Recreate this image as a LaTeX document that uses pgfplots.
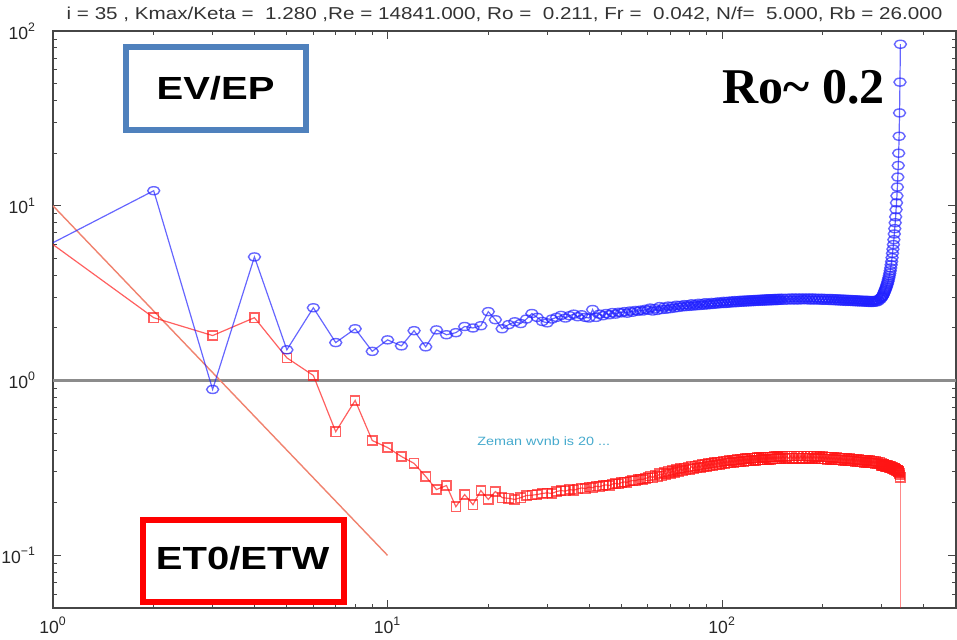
\documentclass[border=0pt]{standalone}
\usepackage{pgfplots}
\pgfplotsset{compat=1.18}
\usepackage{pgfplotstable}
\usepackage{graphicx}
\usepackage{fontspec}
\setmainfont{Liberation Sans}
\newfontfamily\timesfont{Liberation Serif}
\definecolor{evblue}{RGB}{30,30,255}
\definecolor{etred}{RGB}{255,20,20}
\definecolor{boxblue}{RGB}{79,129,189}
\definecolor{slopec}{RGB}{240,130,110}
\definecolor{zeman}{RGB}{70,170,205}
\definecolor{frame}{RGB}{70,70,70}

\pgfplotstableread{
k ev et
1 6.15 6.0
2 12.2 2.29
3 0.89 1.81
4 5.1 2.29
5 1.50 1.35
6 2.61 1.07
7 1.65 0.51
8 1.98 0.77
9 1.47 0.454
10 1.71 0.414
11 1.58 0.368
12 1.93 0.336
13 1.56 0.283
14 1.95 0.238
15 1.83 0.251
16 1.88 0.190
17 2.04 0.223
18 2.00 0.195
19 2.06 0.235
20 2.48 0.209
21 2.23 0.232
22 1.98 0.214
23 2.09 0.212
24 2.17 0.209
25 2.12 0.214
26 2.25 0.220
27 2.42 0.221
28 2.30 0.223
29 2.18 0.226
30 2.14 0.228
31 2.25 0.226
32 2.30 0.232
33 2.36 0.235
34 2.28 0.233
35 2.35 0.238
36 2.40 0.236
37 2.32 0.240
38 2.38 0.243
39 2.30 0.241
40 2.28 0.246
41 2.55 0.244
42 2.30 0.249
43 2.40 0.247
44 2.35 0.251
45 2.42 0.253
46 2.38 0.251
47 2.45 0.256
48 2.40 0.258
49 2.46 0.256
50 2.44 0.261
51 2.48 0.263
52 2.43 0.262
53 2.50 0.266
54 2.46 0.268
55 2.52 0.267
56 2.49 0.271
57 2.53 0.273
58 2.50 0.272
59 2.56 0.276
60 2.53 0.278
61 2.60 0.285
62 2.50 0.277
63 2.58 0.288
64 2.52 0.282
65 2.65 0.294
66 2.55 0.285
67 2.63 0.298
68 2.56 0.290
69 2.67 0.303
70 2.58 0.294
71 2.66 0.306
72 2.60 0.298
73 2.70 0.310
74 2.62 0.302
75 2.69 0.314
76 2.64 0.305
77 2.72 0.317
78 2.65 0.308
79 2.71 0.320
80 2.66 0.311
81 2.75 0.323
82 2.67 0.314
83 2.73 0.325
84 2.68 0.316
85 2.77 0.328
86 2.69 0.318
87 2.75 0.330
88 2.70 0.320
89 2.79 0.333
90 2.71 0.323
91 2.77 0.335
92 2.72 0.325
93 2.80 0.337
94 2.73 0.327
95 2.79 0.339
96 2.74 0.329
97 2.82 0.342
98 2.75 0.331
99 2.81 0.343
100 2.76 0.333
101 2.84 0.346
102 2.76 0.336
103 2.83 0.347
104 2.77 0.337
105 2.85 0.349
106 2.78 0.339
107 2.85 0.350
108 2.79 0.340
109 2.87 0.352
110 2.79 0.342
111 2.86 0.353
112 2.80 0.343
113 2.88 0.355
114 2.81 0.344
115 2.88 0.356
116 2.81 0.345
117 2.89 0.357
118 2.82 0.346
119 2.89 0.358
120 2.82 0.347
121 2.90 0.359
122 2.83 0.348
123 2.90 0.360
124 2.83 0.349
125 2.91 0.361
126 2.84 0.350
127 2.91 0.362
128 2.84 0.351
129 2.92 0.362
130 2.85 0.352
131 2.92 0.363
132 2.85 0.353
133 2.93 0.364
134 2.85 0.353
135 2.93 0.364
136 2.86 0.354
137 2.94 0.365
138 2.86 0.355
139 2.94 0.366
140 2.86 0.355
141 2.94 0.366
142 2.87 0.356
143 2.95 0.367
144 2.87 0.356
145 2.95 0.367
146 2.87 0.357
147 2.95 0.368
148 2.88 0.357
149 2.96 0.368
150 2.88 0.358
152 2.96 0.369
154 2.88 0.358
156 2.96 0.369
158 2.89 0.359
160 2.97 0.370
162 2.89 0.359
164 2.97 0.370
166 2.89 0.359
168 2.97 0.370
170 2.89 0.359
172 2.97 0.370
174 2.90 0.359
176 2.97 0.370
178 2.90 0.359
180 2.97 0.370
182 2.89 0.359
184 2.97 0.369
186 2.89 0.358
188 2.97 0.369
190 2.89 0.358
192 2.96 0.368
194 2.89 0.357
196 2.96 0.368
198 2.88 0.357
200 2.96 0.367
202 2.88 0.356
204 2.95 0.366
206 2.88 0.355
208 2.95 0.365
210 2.87 0.355
212 2.95 0.364
214 2.87 0.354
216 2.94 0.363
218 2.86 0.353
220 2.94 0.362
222 2.86 0.352
224 2.93 0.361
226 2.85 0.351
228 2.93 0.360
230 2.85 0.350
232 2.92 0.359
234 2.84 0.349
236 2.92 0.358
238 2.84 0.348
240 2.91 0.357
242 2.84 0.347
244 2.91 0.356
246 2.83 0.346
248 2.90 0.355
250 2.83 0.345
252 2.90 0.354
254 2.82 0.344
256 2.89 0.353
258 2.82 0.343
260 2.89 0.352
262 2.82 0.342
264 2.88 0.351
266 2.81 0.341
268 2.88 0.350
270 2.81 0.340
272 2.88 0.349
274 2.80 0.339
276 2.87 0.348
278 2.80 0.338
280 2.87 0.347
282 2.80 0.337
284 2.87 0.346
286 2.81 0.336
288 2.88 0.345
290 2.82 0.335
292 2.90 0.343
294 2.86 0.334
296 2.95 0.341
298 2.93 0.332
299 2.99 0.336
300 3.00 0.328
301 3.03 0.333
302 3.06 0.326
303 3.10 0.331
304 3.15 0.325
305 3.20 0.330
306 3.25 0.324
307 3.30 0.329
308 3.35 0.323
309 3.41 0.328
310 3.47 0.322
311 3.54 0.327
312 3.61 0.321
313 3.69 0.326
314 3.78 0.320
315 3.88 0.325
316 3.99 0.319
317 4.11 0.323
318 4.25 0.317
319 4.41 0.322
320 4.60 0.316
321 4.80 0.320
322 5.05 0.315
323 5.35 0.319
324 5.65 0.314
325 6.00 0.317
326 6.40 0.312
327 6.90 0.315
328 7.40 0.311
329 8.00 0.313
330 8.65 0.309
331 9.50 0.311
332 10.4 0.307
333 11.4 0.308
334 12.8 0.305
335 14.6 0.306
336 17.0 0.303
337 20.0 0.302
338 25.0 0.299
339 34.0 0.295
340 51.0 0.289
341 84.0 0.280
}\spectra

\begin{document}
\begin{tikzpicture}
\begin{axis}[
  scale only axis,
  width=451.5pt, height=288.5pt,
  xmode=log, ymode=log,
  xmin=1, xmax=500, ymin=0.05, ymax=100,
  xtick={1,10,100},
  xticklabels={10\textsuperscript{0},10\textsuperscript{1},10\textsuperscript{2}},
  ytick={0.1,1,10,100},
  yticklabels={10\textsuperscript{−1},10\textsuperscript{0},10\textsuperscript{1},10\textsuperscript{2}},
  minor xtick={2,3,4,5,6,7,8,9,20,30,40,50,60,70,80,90,200,300,400},
  minor ytick={0.06,0.07,0.08,0.09,0.2,0.3,0.4,0.5,0.6,0.7,0.8,0.9,2,3,4,5,6,7,8,9,20,30,40,50,60,70,80,90},
  tick align=inside,
  major tick length=4pt, minor tick length=2.2pt,
  every tick/.style={frame, line width=0.5pt},
  axis line style={frame, line width=0.9pt},
  ticklabel style={font=\fontsize{8.8}{10}\selectfont, text=black!85},
  yticklabel style={xshift=-5pt},
  xticklabel style={yshift=-1pt},
  title={\scalebox{1.2}[1]{i = 35 , Kmax/Keta = \ 1.280 ,Re = 14841.000, Ro = \ 0.211, Fr = \ 0.042, N/f= \ 5.000, Rb = 26.000}},
  title style={font=\fontsize{8.6}{10}\selectfont, text=black!80, at={(0.5,1)}, anchor=base, yshift=0pt},
  clip=true,
]
\addplot[black!45, line width=1.2pt, forget plot] coordinates {(1,1) (500,1)};
\addplot[slopec, line width=0.7pt] coordinates {(1,10) (10,0.1)};
\addplot[etred, opacity=0.68, line width=0.6pt, mark=square, mark size=2.3pt, mark phase=2,
  mark options={solid, line width=0.7pt}] table[x=k, y=et] {\spectra};
\addplot[etred, opacity=0.5, line width=0.6pt] coordinates {(341,0.28) (341,0.05)};
\addplot[evblue, opacity=0.68, line width=0.6pt, mark=o, mark size=2pt, mark phase=2,
  mark options={solid, line width=0.7pt, xscale=1.5}] table[x=k, y=ev] {\spectra};

\draw[boxblue, line width=3pt] (rel axis cs:0.081,0.972) rectangle (rel axis cs:0.280,0.828);
\node[font=\bfseries\fontsize{16}{16}\selectfont] at (rel axis cs:0.180,0.900) {\scalebox{1.25}[1]{EV/EP}};
\draw[red, line width=3pt] (rel axis cs:0.0997,0.1525) rectangle (rel axis cs:0.3223,0.0104);
\node[font=\bfseries\fontsize{16}{16}\selectfont] at (rel axis cs:0.210,0.087) {\scalebox{1.25}[1]{ET0/ETW}};
\node[anchor=base west, font=\timesfont\bfseries\fontsize{25}{25}\selectfont, inner sep=0pt] at (rel axis cs:0.741,0.875) {Ro\textasciitilde\ 0.2};
\node[anchor=base west, inner sep=0pt, text=zeman, font=\fontsize{6}{7}\selectfont] at (rel axis cs:0.4695,0.2825) {\scalebox{1.2}[1]{Zeman wvnb is 20 ...}};
\end{axis}
\pgfresetboundingbox
\useasboundingbox ([xshift=-26.5pt,yshift=-15.5pt]current axis.south west) rectangle ([xshift=0.5pt,yshift=15.5pt]current axis.north east);
\end{tikzpicture}
\end{document}
